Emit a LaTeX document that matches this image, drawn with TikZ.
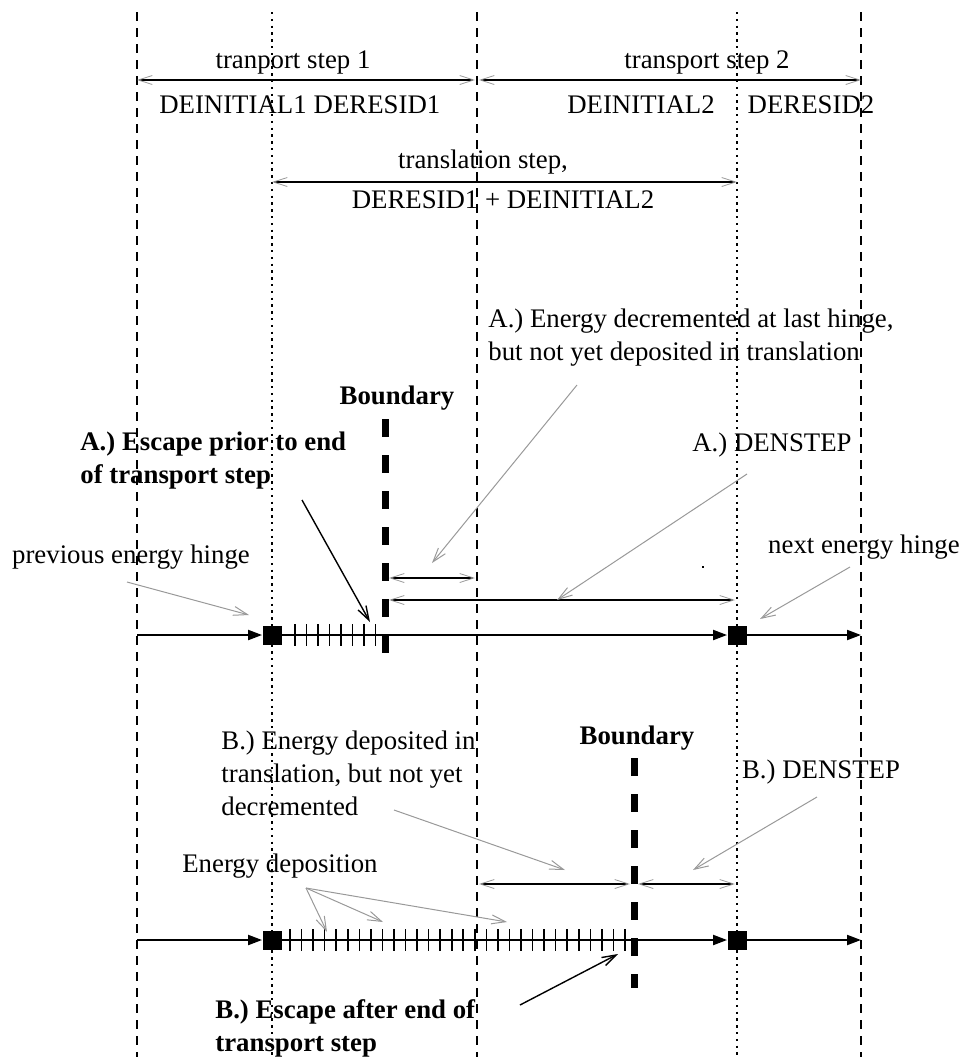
\documentclass[tikz,border=0pt]{standalone}
\usepackage{fontspec}
\setmainfont{Liberation Serif}
\usepackage{tikz}
\usetikzlibrary{arrows.meta}
\newcommand{\figfont}{\fontsize{13.4}{16.5}\selectfont}

\begin{document}
\begin{tikzpicture}[
    x=0.5pt, y=-0.5pt,
    stepline/.style={line width=0.75pt, dash pattern=on 4.5pt off 3.5pt},
    hingeline/.style={line width=0.9pt, dash pattern=on 1.2pt off 2.2pt},
    boundline/.style={line width=3.5pt, dash pattern=on 9pt off 9pt},
    dimline/.style={
      line width=0.9pt,
      {Straight Barb[length=7pt,width=4.5pt,color=gray!80,line width=0.4pt]}-{Straight Barb[length=7pt,width=4.5pt,color=gray!80,line width=0.4pt]}
    },
    pointer/.style={gray!80, line width=0.5pt, -{Straight Barb[length=7pt,width=4.5pt]}},
    escarrow/.style={line width=0.7pt, -{Straight Barb[length=7pt,width=4.5pt]}},
    track/.style={line width=1pt, -{Triangle[length=7pt,width=5pt]}},
    hinge/.style={rectangle, fill=black, minimum size=9.5pt, inner sep=0pt},
    tickmark/.style={line width=0.8pt},
    lbl/.style={font=\figfont, inner sep=0pt},
    blbl/.style={font=\figfont\bfseries, inner sep=0pt}
  ]

    \useasboundingbox (0,0) rectangle (966,1057);

    % step borders (dashed) and energy hinges (dotted)
    \foreach \x/\s in {137/stepline, 272/hingeline, 477/stepline, 737/hingeline, 861/stepline} {
      \draw[\s] (\x,12) -- (\x,1057);
    }

    % transport and translation steps
    \node[lbl] (tp1) at (293,62) {tranport step 1};
    \node[lbl] (tp2) at (707,62) {transport step 2};
    \node[lbl] (ini1) at (233,105) {DEINITIAL1};
    \node[lbl] (res1) at (377,105) {DERESID1};
    \node[lbl] (ini2) at (641,105) {DEINITIAL2};
    \node[lbl] (res2) at (811,105) {DERESID2};
    \node[lbl] (trans) at (483,162) {translation step,};
    \node[lbl] (transsum) at (503,200) {DERESID1 + DEINITIAL2};

    \coordinate (s1a) at (137,80);
    \coordinate (s1b) at (475,80);
    \coordinate (s2a) at (479,80);
    \coordinate (s2b) at (861,80);
    \coordinate (tra) at (272,182);
    \coordinate (trb) at (737,182);
    \draw[dimline] (s1a) -- (s1b);
    \draw[dimline] (s2a) -- (s2b);
    \draw[dimline] (tra) -- (trb);

    % case A: escape prior to end of transport step
    \node[lbl, anchor=west, align=left] (decA) at (488,337.5)
      {A.) Energy decremented at last hinge,\\but not yet deposited in translation};
    \node[blbl] (bndA) at (397,398) {Boundary};
    \node[blbl, anchor=west, align=left] (escA) at (80,461)
      {A.) Escape prior to end\\of transport step};
    \node[lbl] (prevA) at (131,557) {previous energy hinge};
    \node[lbl] (denA) at (772,445) {A.) DENSTEP};
    \node[lbl] (nextA) at (864,547) {next energy hinge};

    \node[hinge] (hA1) at (272,635) {};
    \node[hinge] (hA2) at (737,635) {};
    \coordinate (aA0) at (137,635);
    \coordinate (aA9) at (861,635);
    \draw[track] (aA0) -- (hA1.west);
    \draw[track] (hA1.east) -- (hA2.west);
    \draw[track] (hA2.east) -- (aA9);
    \foreach \i in {0,...,7} {
      \draw[tickmark] (295+11.5*\i,624) -- (295+11.5*\i,646);
    }

    \coordinate (dA1) at (389,578);
    \coordinate (dA2) at (475,578);
    \coordinate (dA3) at (389,600);
    \coordinate (dA4) at (735,600);
    \draw[dimline] (dA1) -- (dA2);
    \draw[dimline] (dA3) -- (dA4);

    \coordinate (pA1) at (577,385);
    \coordinate (pA2) at (432,563);
    \coordinate (pA3) at (747,474);
    \coordinate (pA4) at (557,600);
    \coordinate (pA5) at (850,567);
    \coordinate (pA6) at (760,619);
    \coordinate (pA7) at (127,582);
    \coordinate (pA8) at (249,615);
    \draw[pointer] (pA1) -- (pA2);
    \draw[pointer] (pA3) -- (pA4);
    \draw[pointer] (pA5) -- (pA6);
    \draw[pointer] (pA7) -- (pA8);

    \coordinate (eA1) at (302,500);
    \coordinate (eA2) at (370,622);
    \draw[escarrow] (eA1) -- (eA2);

    \fill (702,566) rectangle (704,568);

    \coordinate (bAtop) at (385,419);
    \coordinate (bAbot) at (385,657);
    \draw[boundline] (bAtop) -- (bAbot);

    % case B: escape after end of transport step
    \node[lbl, anchor=west, align=left] (depB) at (221,773)
      {B.) Energy deposited in\\translation, but not yet\\decremented};
    \node[blbl] (bndB) at (637,738) {Boundary};
    \node[lbl] (denB) at (821,772) {B.) DENSTEP};
    \node[lbl] (edepB) at (280,866) {Energy deposition};
    \node[blbl, anchor=west, align=left] (escB) at (215,1028)
      {B.) Escape after end of\\transport step};

    \node[hinge] (hB1) at (272,940) {};
    \node[hinge] (hB2) at (737,940) {};
    \coordinate (aB0) at (137,940);
    \coordinate (aB9) at (861,940);
    \draw[track] (aB0) -- (hB1.west);
    \draw[track] (hB1.east) -- (hB2.west);
    \draw[track] (hB2.east) -- (aB9);
    \foreach \i in {0,...,29} {
      \draw[tickmark] (290+11.55*\i,929) -- (290+11.55*\i,951);
    }

    \coordinate (dB1) at (479,884);
    \coordinate (dB2) at (630,884);
    \coordinate (dB3) at (638,884);
    \coordinate (dB4) at (735,884);
    \draw[dimline] (dB1) -- (dB2);
    \draw[dimline] (dB3) -- (dB4);

    \coordinate (pB1) at (394,810);
    \coordinate (pB2) at (565,870);
    \coordinate (pB3) at (817,797);
    \coordinate (pB4) at (693,870);
    \coordinate (pB0) at (306,888);
    \coordinate (pB5) at (327,932);
    \coordinate (pB6) at (383,922);
    \coordinate (pB7) at (507,922);
    \draw[pointer] (pB1) -- (pB2);
    \draw[pointer] (pB3) -- (pB4);
    \draw[pointer] (pB0) -- (pB5);
    \draw[pointer] (pB0) -- (pB6);
    \draw[pointer] (pB0) -- (pB7);

    \coordinate (eB1) at (520,1005);
    \coordinate (eB2) at (618,954);
    \draw[escarrow] (eB1) -- (eB2);

    \coordinate (bBtop) at (634,758);
    \coordinate (bBbot) at (634,988);
    \draw[boundline] (bBtop) -- (bBbot);

  \end{tikzpicture}
\end{document}
